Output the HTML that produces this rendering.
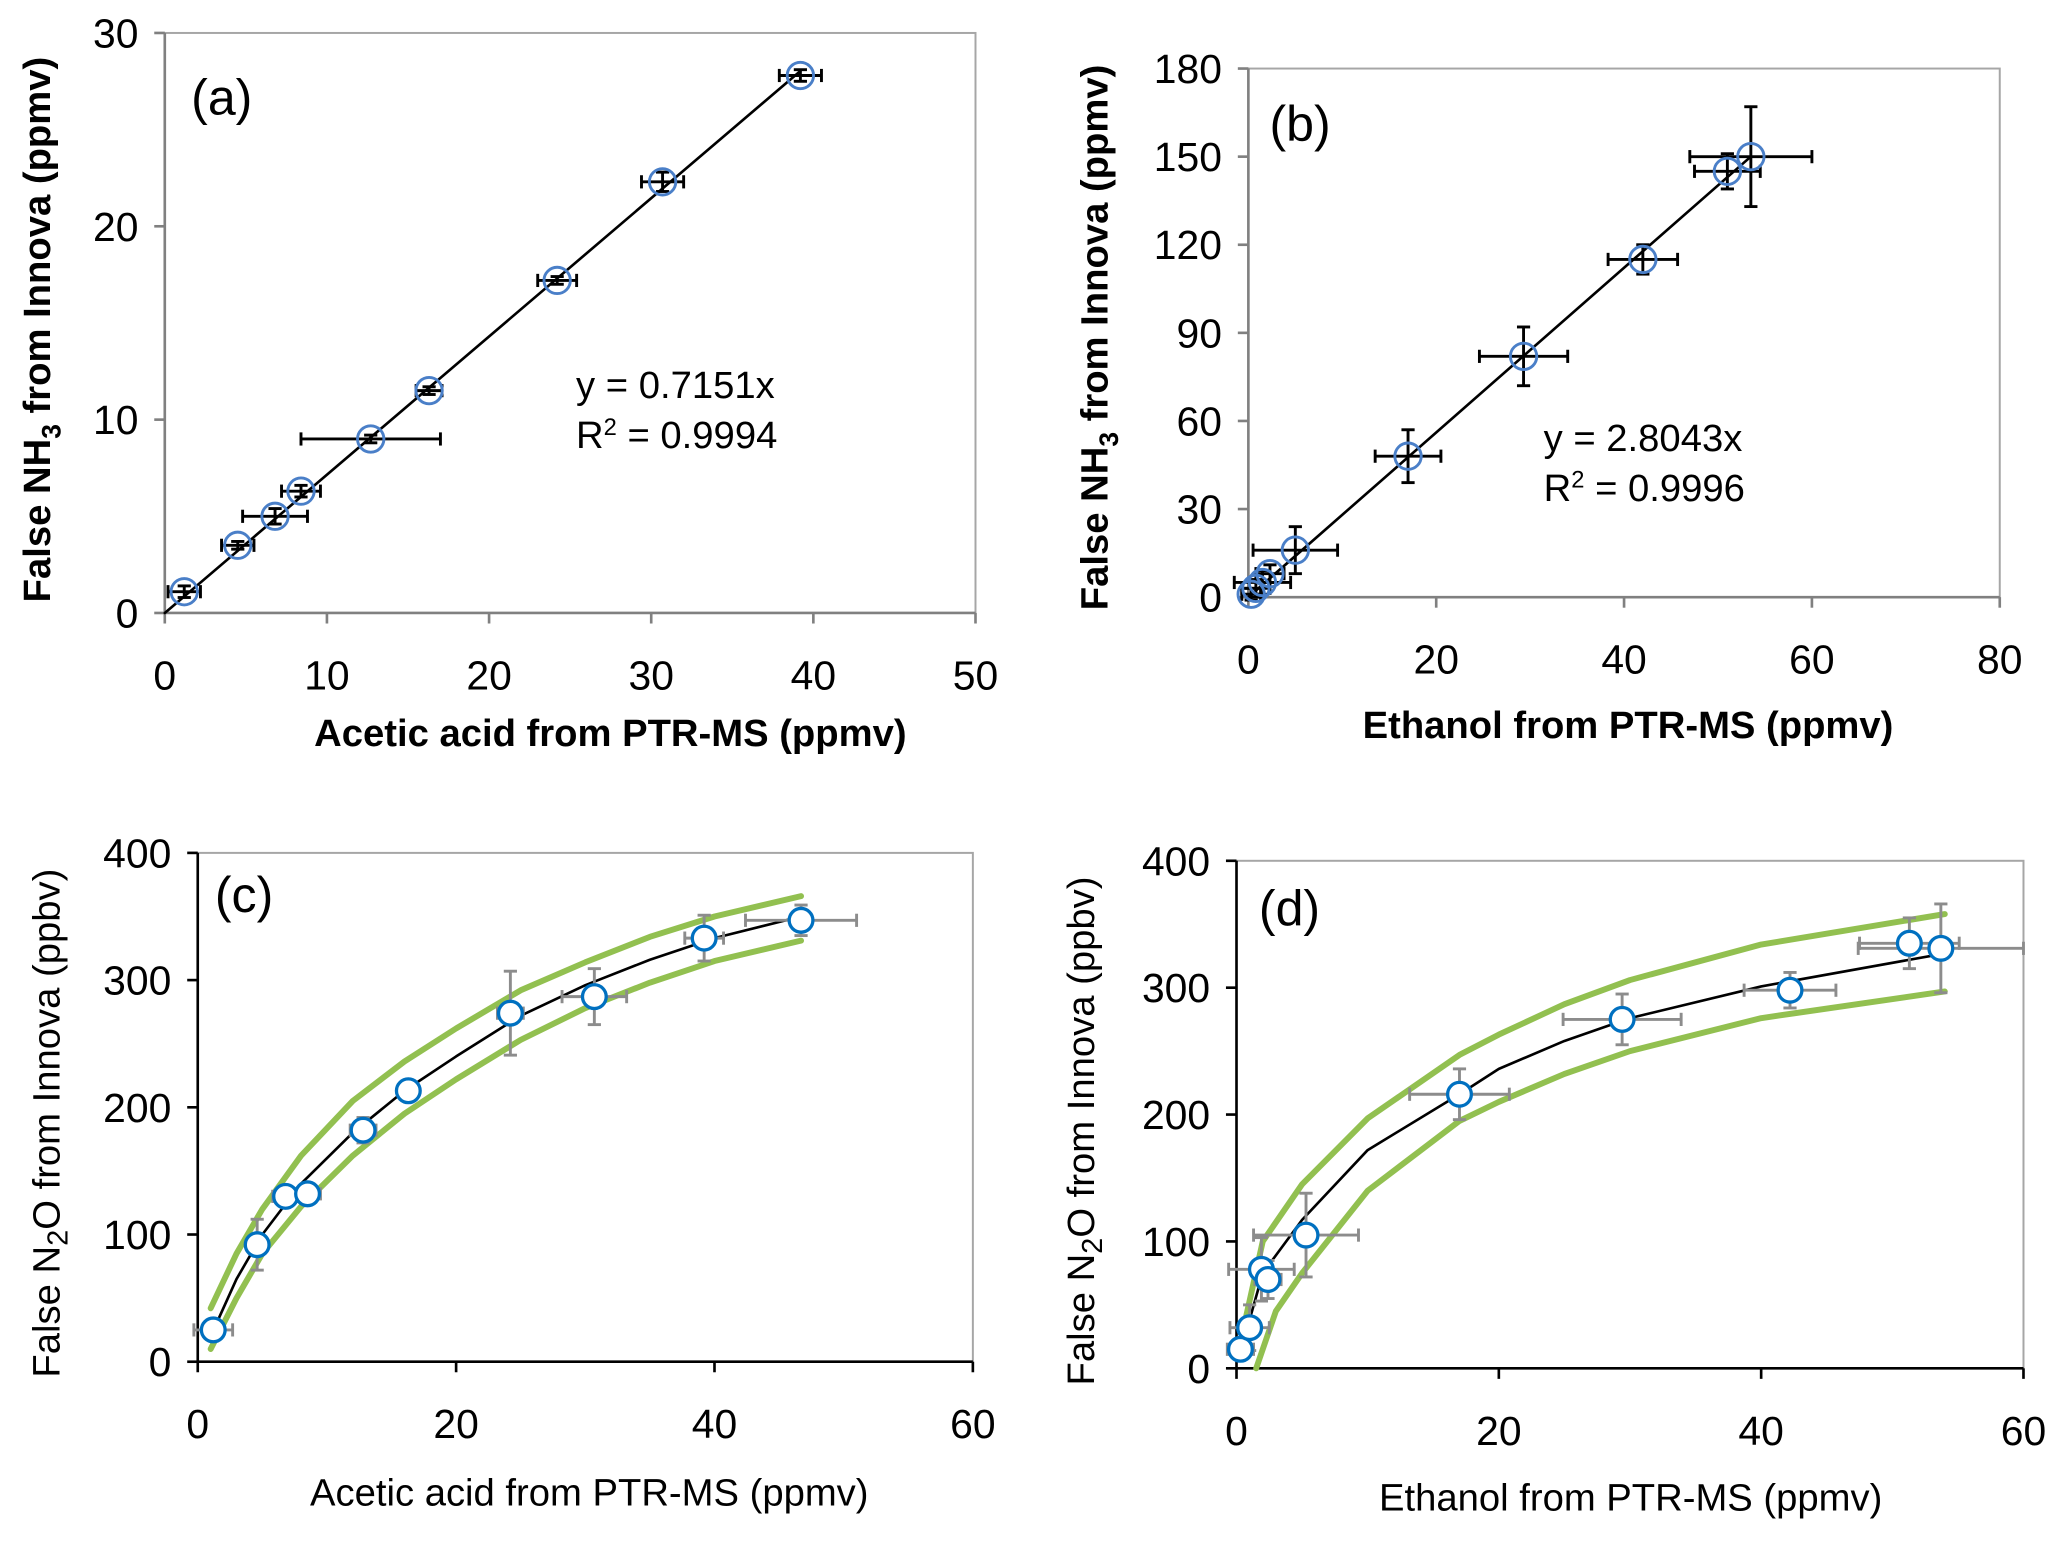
<!DOCTYPE html>
<html><head><meta charset="utf-8"><style>
html,body{margin:0;padding:0;background:#fff;}
svg{display:block;font-family:"Liberation Sans",sans-serif;}
</style></head><body>
<svg id="fig" width="2067" height="1541" viewBox="0 0 1568 1169" xmlns="http://www.w3.org/2000/svg"></svg>
<script>
// Panel (a) data
const aX=[1.2,4.5,6.8,8.4,12.7,16.3,24.2,30.7,39.2];
const aY=[1.1,3.5,5.0,6.3,9.0,11.5,17.2,22.3,27.8];
const aXe=[1.0,1.0,2.0,1.2,4.3,0.8,1.2,1.3,1.3];
const aYe=[0.3,0.2,0.4,0.3,0.2,0.2,0.2,0.5,0.3];
const aSlope=0.7151;
// Panel (b) data
const bX=[0.3,0.8,1.5,2.3,5.0,17.0,29.3,42.0,51.0,53.5];
const bY=[1,3,5,8,16,48,82,115,145,150];
const bXe=[1.0,1.5,3.0,1.5,4.5,3.5,4.7,3.7,3.5,6.5];
const bYe=[2,3,4,3,8,9,10,5,6,17];
const bSlope=2.8043;
// Panel (c) data
const cX=[1.2,4.6,6.8,8.5,12.8,16.3,24.2,30.7,39.2,46.7];
const cY=[25,92,130,132,182,213,274,287,333,347];
const cXe=[1.5,0.8,1.0,1.0,1.0,0.5,1.0,2.5,1.5,4.3];
const cYe=[5,20,5,8,10,5,33,22,18,12];
const cFitX=[1,3,5,8,12,16,20,25,30,35,40,46.7];
const cFitY=[20,65,100,140,180,213,240,272,296,316,333,350];
const cUpY=[42,85,120,162,205,236,262,292,314,334,350,366];
const cLoY=[10,50,85,122,162,195,222,253,278,298,315,331];
// Panel (d) data
const dX=[0.3,1.0,1.9,2.4,5.3,17.0,29.4,42.2,51.3,53.7];
const dY=[15,32,78,70,105,216,275,298,335,331];
const dXe=[1.0,1.5,2.5,1.0,4.0,3.8,4.5,3.5,3.8,6.3];
const dYe=[8,18,25,15,33,20,20,14,20,35];
const dFitX=[0.5,2,5,10,17,20,25,30,40,54];
const dFitY=[20,75,117,172,216,236,258,276,301,327];
const dUpX=[0.5,2,5,10,17,20,25,30,40,54];
const dUpY=[30,100,145,197,247,263,287,306,334,358];
const dLoX=[1.5,3,5,10,17,20,25,30,40,54];
const dLoY=[0,45,75,140,195,210,232,250,276,297];

const NS="http://www.w3.org/2000/svg";
const svg=document.getElementById('fig');
function mk(tag,attrs,parent){const e=document.createElementNS(NS,tag);for(const k in attrs)e.setAttribute(k,attrs[k]);(parent||svg).appendChild(e);return e;}

function panel(o){
  const g=mk('g',{});
  
  
  const sx=v=>o.x0+(v-o.xmin)/(o.xmax-o.xmin)*(o.x1-o.x0);
  const sy=v=>o.y0-(v-o.ymin)/(o.ymax-o.ymin)*(o.y0-o.y1);
  const fr=mk('rect',{x:o.x0,y:o.y1,width:o.x1-o.x0,height:o.y0-o.y1,fill:'none',stroke:'#a6a6a6','stroke-width':1.5},g);
  
  
  const ax=mk('line',{x1:o.x0,y1:o.y0,x2:o.x1,y2:o.y0,stroke:o.axCol,'stroke-width':2},g);
  
  
  const ay=mk('line',{x1:o.x0,y1:o.y0,x2:o.x0,y2:o.y1,stroke:o.axCol,'stroke-width':2},g);
  
  
  o.xt.forEach(t=>{
    mk('line',{x1:sx(t),y1:o.y0,x2:sx(t),y2:o.y0+8,stroke:o.axCol,'stroke-width':2},g);
    const tx=mk('text',{x:sx(t),y:o.y0+58,'font-size':31,'text-anchor':'middle',fill:'#000'},g);
    tx.textContent=t;
    
    
  });
  o.yt.forEach(t=>{
    mk('line',{x1:o.x0-8,y1:sy(t),x2:o.x0,y2:sy(t),stroke:o.axCol,'stroke-width':2},g);
    const tx=mk('text',{x:o.x0-20,y:sy(t)+11,'font-size':31,'text-anchor':'end',fill:'#000'},g);
    tx.textContent=t;
    
    
  });
  const poly=(xs,ys,col,w,nm)=>{
    const p=mk('polyline',{points:xs.map((x,i)=>sx(x)+','+sy(ys[i])).join(' '),fill:'none',stroke:col,'stroke-width':w,'stroke-linejoin':'round','stroke-linecap':'round'},g);
    
    
  };
  if(o.bands){o.bands.forEach((b,i)=>poly(b[0],b[1],'#92c050',4.5,i?'lower-confidence-band':'upper-confidence-band'));}
  if(o.fit) poly(o.fit[0],o.fit[1],'#000',2,'fit-curve');
  if(o.slope!==undefined){
    const xe=Math.max(...o.X);
    poly([0,xe],[0,o.slope*xe],'#000',2,'trend-line');
  }
  const ec=o.errCol, cap=5;
  o.X.forEach((x,i)=>{
    const y=o.Y[i], eg=mk('g',{stroke:ec,'stroke-width':2.2},g);
    
    
    const xa=sx(x-o.Xe[i]), xb=Math.min(sx(x+o.Xe[i]),o.x1), ya=sy(y-o.Ye[i]), yb=sy(y+o.Ye[i]);
    mk('line',{x1:xa,y1:sy(y),x2:xb,y2:sy(y)},eg);
    mk('line',{x1:xa,y1:sy(y)-cap,x2:xa,y2:sy(y)+cap},eg);
    if(sx(x+o.Xe[i])<=o.x1) mk('line',{x1:xb,y1:sy(y)-cap,x2:xb,y2:sy(y)+cap},eg);
    mk('line',{x1:sx(x),y1:ya,x2:sx(x),y2:yb},eg);
    mk('line',{x1:sx(x)-cap,y1:ya,x2:sx(x)+cap,y2:ya},eg);
    mk('line',{x1:sx(x)-cap,y1:yb,x2:sx(x)+cap,y2:yb},eg);
  });
  o.X.forEach((x,i)=>{
    const c=mk('circle',{cx:sx(x),cy:sy(o.Y[i]),r:o.filled?9:10,fill:o.filled?'#fff':'none',stroke:o.filled?'#0070c0':'#4a7fc8','stroke-width':o.filled?2.5:2.2},g);
    
    
  });
  const lb=mk('text',{x:o.lbl[0],y:o.lbl[1],'font-size':38,fill:'#000'},g);
  lb.textContent=o.letter;
  
  
  const xt=mk('text',{x:o.xl[0],y:o.xl[1],'font-size':o.bold?29:29,'font-weight':o.bold?'bold':'normal','text-anchor':'middle',fill:'#000'},g);
  xt.textContent=o.xlabel;
  
  
  const yt=mk('text',{transform:'translate('+o.yl[0]+','+o.yl[1]+') rotate(-90)','font-size':o.bold?29:29,'font-weight':o.bold?'bold':'normal','text-anchor':'middle',fill:'#000'},g);
  yt.innerHTML=o.ylabel;
  
  
  if(o.eq){o.eq.forEach((s,i)=>{const t=mk('text',{x:o.eqPos[0],y:o.eqPos[1]+i*38,'font-size':29,fill:'#000'},g);t.innerHTML=s;});}
}

panel({name:'panel-a',letter:'(a)',x0:125,x1:740,y0:465,y1:25,xmin:0,xmax:50,ymin:0,ymax:30,xt:[0,10,20,30,40,50],yt:[0,10,20,30],axCol:'#808080',
  X:aX,Y:aY,Xe:aXe,Ye:aYe,slope:aSlope,errCol:'#000',lbl:[145,87],xl:[463,566],yl:[38,250],bold:true,
  xlabel:'Acetic acid from PTR-MS (ppmv)',ylabel:'False NH<tspan font-size="20" dy="8">3</tspan><tspan dy="-8"> from Innova (ppmv)</tspan>',
  eq:['y = 0.7151x','R<tspan font-size="18" dy="-10">2</tspan><tspan dy="10"> = 0.9994</tspan>'],eqPos:[437,302]});
panel({name:'panel-b',letter:'(b)',x0:947,x1:1517,y0:453,y1:52,xmin:0,xmax:80,ymin:0,ymax:180,xt:[0,20,40,60,80],yt:[0,30,60,90,120,150,180],axCol:'#808080',
  X:bX,Y:bY,Xe:bXe,Ye:bYe,slope:bSlope,errCol:'#000',lbl:[963,107],xl:[1235,560],yl:[840,256],bold:true,
  xlabel:'Ethanol from PTR-MS (ppmv)',ylabel:'False NH<tspan font-size="20" dy="8">3</tspan><tspan dy="-8"> from Innova (ppmv)</tspan>',
  eq:['y = 2.8043x','R<tspan font-size="18" dy="-10">2</tspan><tspan dy="10"> = 0.9996</tspan>'],eqPos:[1171,342]});
panel({name:'panel-c',letter:'(c)',x0:150,x1:738,y0:1033,y1:647,xmin:0,xmax:60,ymin:0,ymax:400,xt:[0,20,40,60],yt:[0,100,200,300,400],axCol:'#000',
  X:cX,Y:cY,Xe:cXe,Ye:cYe,fit:[cFitX,cFitY],bands:[[cFitX,cUpY],[cFitX,cLoY]],errCol:'#8c8c8c',filled:true,lbl:[163,692],xl:[447,1142],yl:[45,852],bold:false,
  xlabel:'Acetic acid from PTR-MS (ppmv)',ylabel:'False N<tspan font-size="22" dy="6">2</tspan><tspan dy="-6">O from Innova (ppbv)</tspan>'});
panel({name:'panel-d',letter:'(d)',x0:938,x1:1535,y0:1038,y1:653,xmin:0,xmax:60,ymin:0,ymax:400,xt:[0,20,40,60],yt:[0,100,200,300,400],axCol:'#000',
  X:dX,Y:dY,Xe:dXe,Ye:dYe,fit:[dFitX,dFitY],bands:[[dUpX,dUpY],[dLoX,dLoY]],errCol:'#8c8c8c',filled:true,lbl:[955,702],xl:[1237,1146],yl:[830,858],bold:false,
  xlabel:'Ethanol from PTR-MS (ppmv)',ylabel:'False N<tspan font-size="22" dy="6">2</tspan><tspan dy="-6">O from Innova (ppbv)</tspan>'});
</script>
</body></html>
